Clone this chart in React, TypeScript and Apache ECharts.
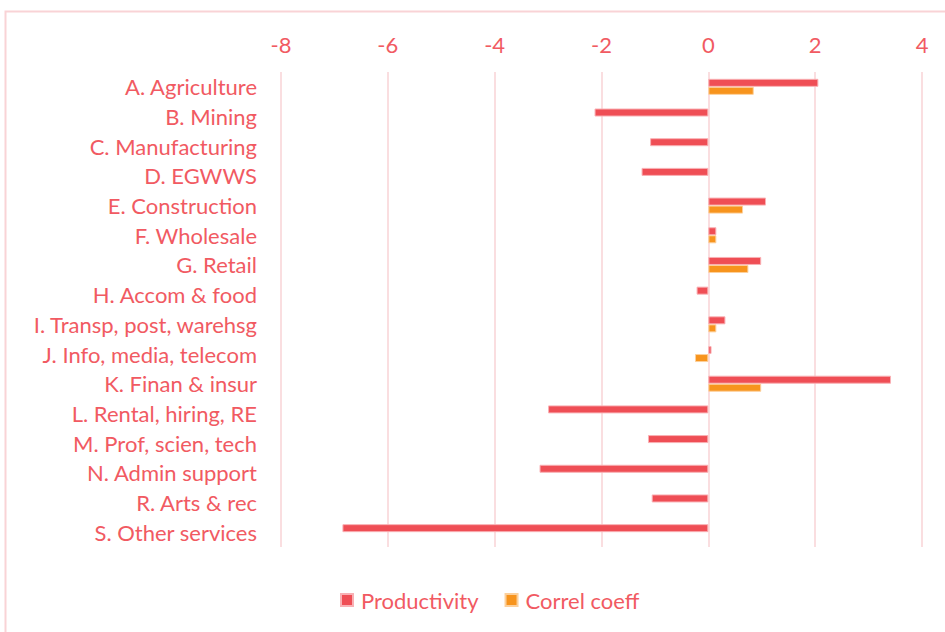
import React, { useEffect, useRef } from "react";
import * as echarts from "echarts";

const categories = [
  "A. Agriculture",
  "B. Mining",
  "C. Manufacturing",
  "D. EGWWS",
  "E. Construction",
  "F. Wholesale",
  "G. Retail",
  "H. Accom & food",
  "I. Transp, post, warehsg",
  "J. Info, media, telecom",
  "K. Finan & insur",
  "L. Rental, hiring, RE",
  "M. Prof, scien, tech",
  "N. Admin support",
  "R. Arts & rec",
  "S. Other services",
];

const productivity = [2.06, -2.13, -1.09, -1.25, 1.08, 0.15, 0.99, -0.22, 0.32, 0.06, 3.42, -3.0, -1.13, -3.16, -1.06, -6.85];
const correlCoeff = [0.85, null, null, null, 0.65, 0.15, 0.75, null, 0.15, -0.25, 0.99, null, null, null, null, null];

const seriesNames = ["Productivity", "Correl coeff"];

const RED = "#ef4e55";
const ORANGE = "#f7941d";
const TEXT = "#f15a62";
const FONT = "Lato";

export default function App() {
  const ref = useRef<HTMLDivElement>(null);
  useEffect(() => {
    if (!ref.current) return;
    const chart = echarts.init(ref.current, undefined, { renderer: "svg" });
    chart.setOption({
      animation: false,
      backgroundColor: "#ffffff",
      graphic: [
        {
          type: "rect",
          shape: { x: 5.5, y: 11.5, width: 960, height: 640 },
          style: { fill: "none", stroke: "#f9d3d6", lineWidth: 2 },
          silent: true,
        },
      ],
      grid: { left: 281, right: 23, top: 72, bottom: 85, containLabel: false },
      legend: {
        bottom: 16,
        left: 335,
        itemWidth: 12,
        itemHeight: 12,
        itemGap: 26,
        icon: "rect",
        textStyle: { color: TEXT, fontSize: 22, fontFamily: FONT, padding: [0, 0, 0, 3] },
        data: seriesNames,
      },
      xAxis: {
        type: "value",
        position: "top",
        min: -8,
        max: 4,
        interval: 2,
        axisLine: { show: false },
        axisTick: { show: false },
        splitLine: { lineStyle: { color: "#f9d3d6", width: 1.5 } },
        axisLabel: { color: TEXT, fontSize: 22, fontFamily: FONT, margin: 17 },
      },
      yAxis: {
        type: "category",
        inverse: true,
        data: categories,
        axisLine: { show: false },
        axisTick: { show: false },
        axisLabel: { color: TEXT, fontSize: 22, fontFamily: FONT, margin: 24 },
      },
      series: [
        {
          name: seriesNames[0],
          type: "bar",
          data: productivity,
          barGap: "0%",
          barCategoryGap: "46%",
          itemStyle: { color: RED, borderColor: "#f9b0b4", borderWidth: 1 },
        },
        {
          name: seriesNames[1],
          type: "bar",
          data: correlCoeff,
          barGap: "0%",
          barCategoryGap: "46%",
          itemStyle: { color: ORANGE, borderColor: "#fcd09c", borderWidth: 1 },
        },
      ],
    });
    return () => chart.dispose();
  }, []);
  return (
    <div
      ref={ref}
      style={{ position: "absolute", left: 0, top: 0, width: 945, height: 632 }}
    />
  );
}
